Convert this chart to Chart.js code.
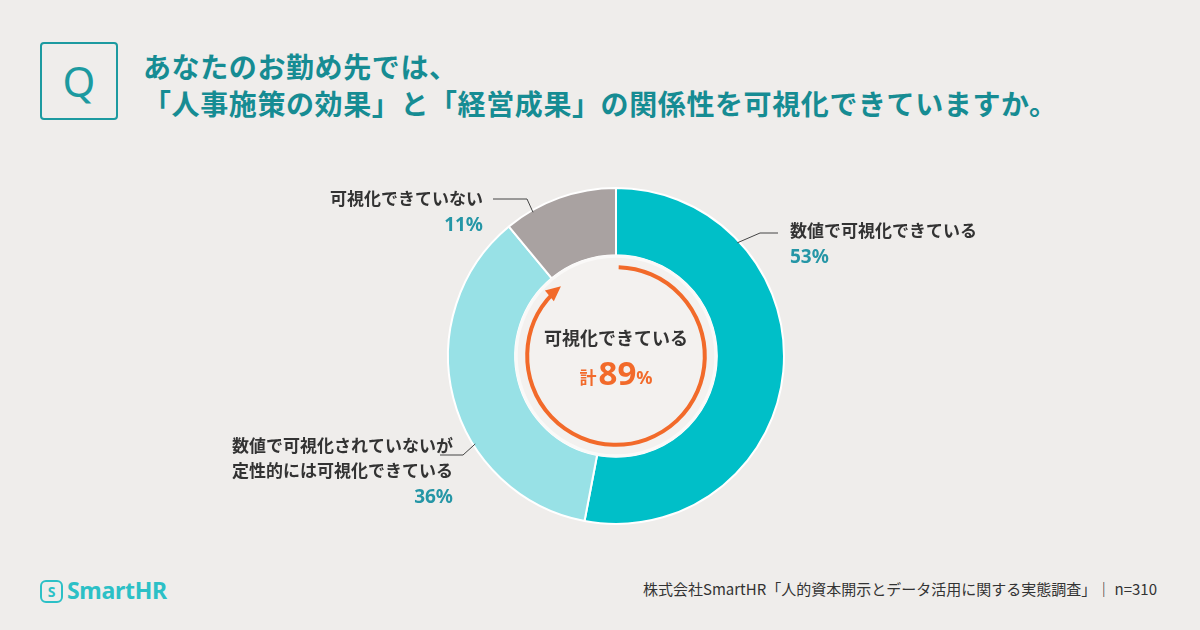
<!DOCTYPE html>
<html lang="ja">
<head>
<meta charset="utf-8">
<script src="https://cdn.jsdelivr.net/npm/chart.js@4/dist/chart.umd.min.js"></script>
<style>
  html, body { margin: 0; padding: 0; }
  body { width: 1200px; height: 630px; background: #efedeb; position: relative; overflow: hidden;
         font-family: "Noto Sans CJK JP", "Noto Sans", sans-serif; }
  #qbox { position: absolute; left: 40px; top: 42px; width: 74px; height: 74px; border: 2px solid #1c9aa0;
          border-radius: 4px; color: #1c9aa0; font-family: "Noto Sans", sans-serif; font-size: 42px;
          line-height: 74px; text-align: center; }
  #title { position: absolute; left: 143px; top: 48px; color: #168c93; font-size: 28px; font-weight: 700;
           line-height: 37px; letter-spacing: 0.6px; }
  #logo { position: absolute; left: 40px; top: 574px; color: #2cc0c6; font-family: "Noto Sans", sans-serif;
          font-size: 23px; font-weight: 700; letter-spacing: -0.3px; }
  #logo span { display: inline-block; width: 19px; height: 19px; border: 2.5px solid #2cc0c6; border-radius: 6px;
               font-size: 14px; line-height: 19px; text-align: center; vertical-align: 2px; margin-right: 4px; }
  #source { position: absolute; right: 43px; top: 578px; color: #333; font-size: 15px; }
  canvas { position: absolute; left: 0; top: 0; }
</style>
</head>
<body>
<div id="qbox">Q</div>
<div id="title">あなたのお勤め先では、<br>「人事施策の効果」と「経営成果」の関係性を可視化できていますか。</div>
<div id="logo"><span>S</span>SmartHR</div>
<div id="source">株式会社SmartHR「人的資本開示とデータ活用に関する実態調査」｜ n=310</div>
<canvas id="myChart" width="1200" height="630"></canvas>
<script>
const labels = [["数値で可視化できている"], ["数値で可視化されていないが", "定性的には可視化できている"], ["可視化できていない"]];
const values = [53, 36, 11];
const colors = ["#00bfc8", "#98e1e6", "#a9a2a1"];
const centerTitle = "可視化できている";
const visibleTotal = values[0] + values[1];

// label placement: anchor angle on the ring (deg clockwise from top), elbow, text position, alignment
const labelPos = [
  { angle: 47, elbow: [760, 233], end: [778, 233], tx: 790, ty: 231, align: "left" },
  { angle: 238, elbow: [463, 455], end: [440, 455], tx: 453, ty: 446, align: "right" },
  { angle: 330, elbow: [527, 199], end: [493, 199], tx: 483, ty: 199, align: "right" }
];

const decor = {
  id: "decor",
  afterDatasetsDraw(chart) {
    const ctx = chart.ctx;
    const arc = chart.getDatasetMeta(0).data[0];
    const cx = arc.x, cy = arc.y, ro = arc.outerRadius, ri = arc.innerRadius;

    // inner disc
    ctx.save();
    ctx.beginPath();
    ctx.arc(cx, cy, ri - 1, 0, Math.PI * 2);
    ctx.fillStyle = "#f3f1ef";
    ctx.fill();
    ctx.lineWidth = 3;
    ctx.strokeStyle = "#faf9f8";
    ctx.stroke();

    // orange arc with arrow
    const r = ri - 12;
    const start = -Math.PI / 2 + 0.03;
    const end = -Math.PI / 2 + visibleTotal / 100 * Math.PI * 2;
    ctx.beginPath();
    ctx.arc(cx, cy, r, start, end - 0.1);
    ctx.strokeStyle = "#f26a2a";
    ctx.lineWidth = 4;
    ctx.stroke();
    const tipX = cx + r * Math.cos(end), tipY = cy + r * Math.sin(end);
    const tx = -Math.sin(end), ty = Math.cos(end);
    const nx = Math.cos(end), ny = Math.sin(end);
    ctx.beginPath();
    ctx.moveTo(tipX + tx * 2, tipY + ty * 2);
    ctx.lineTo(tipX - tx * 13 + nx * 7, tipY - ty * 13 + ny * 7);
    ctx.lineTo(tipX - tx * 13 - nx * 7, tipY - ty * 13 - ny * 7);
    ctx.closePath();
    ctx.fillStyle = "#f26a2a";
    ctx.fill();

    // center text
    ctx.textBaseline = "middle";
    ctx.textAlign = "center";
    ctx.fillStyle = "#333";
    ctx.font = "700 18px 'Noto Sans CJK JP'";
    ctx.fillText(centerTitle, cx, cy - 18);
    ctx.fillStyle = "#f26a2a";
    const big = "700 33px 'Noto Sans'";
    const small1 = "700 17px 'Noto Sans CJK JP'";
    const small2 = "700 18px 'Noto Sans'";
    ctx.font = small1; const w1 = ctx.measureText("計").width;
    ctx.font = big; const w2 = ctx.measureText(String(visibleTotal)).width;
    ctx.font = small2; const w3 = ctx.measureText("%").width;
    let x = cx - (w1 + w2 + w3 + 2) / 2;
    ctx.textAlign = "left";
    ctx.textBaseline = "alphabetic";
    const by = cy + 28;
    ctx.font = small1; ctx.fillText("計", x, by); x += w1 + 2;
    ctx.font = big; ctx.fillText(String(visibleTotal), x, by + 1); x += w2;
    ctx.font = small2; ctx.fillText("%", x, by);

    // leader lines and labels
    labelPos.forEach((p, i) => {
      const a = p.angle * Math.PI / 180 - Math.PI / 2;
      const sx = cx + (ro - 2) * Math.cos(a), sy = cy + (ro - 2) * Math.sin(a);
      ctx.beginPath();
      ctx.moveTo(sx, sy);
      ctx.lineTo(p.elbow[0], p.elbow[1]);
      ctx.lineTo(p.end[0], p.end[1]);
      ctx.strokeStyle = "#444";
      ctx.lineWidth = 1;
      ctx.stroke();
      ctx.textAlign = p.align;
      ctx.textBaseline = "middle";
      ctx.fillStyle = "#333";
      ctx.font = "700 17px 'Noto Sans CJK JP'";
      let ly = p.ty;
      labels[i].forEach(line => { ctx.fillText(line, p.tx, ly); ly += 25; });
      ctx.fillStyle = "#2596a6";
      ctx.font = "700 19px 'Noto Sans'";
      ctx.fillText(values[i] + "%", p.tx, ly + 2);
    });
    ctx.restore();
  }
};

new Chart(document.getElementById("myChart"), {
  type: "doughnut",
  data: {
    labels: labels.map(l => l.join("")),
    datasets: [{
      data: values,
      backgroundColor: colors,
      borderColor: "#ffffff",
      borderWidth: 2
    }]
  },
  options: {
    responsive: false,
    animation: false,
    cutout: "60%",
    layout: { padding: { left: 447, right: 415, top: 187, bottom: 105 } },
    plugins: { legend: { display: false }, tooltip: { enabled: false } }
  },
  plugins: [decor]
});
</script>
</body>
</html>
